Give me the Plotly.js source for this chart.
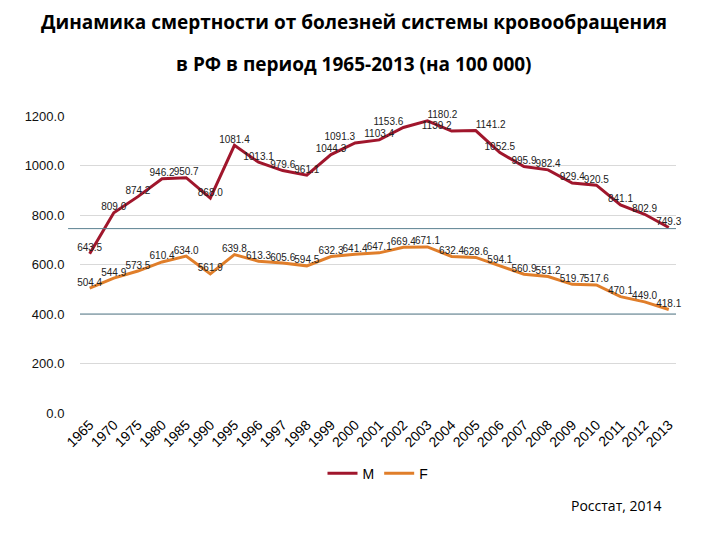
<!DOCTYPE html>
<html><head><meta charset="utf-8">
<script src="https://cdn.plot.ly/plotly-3.0.1.min.js"></script>
<style>html,body{margin:0;padding:0;background:#fff}#chart{width:720px;height:540px}</style>
</head><body><div id="chart"></div>
<script>
const years = ['1965','1970','1975','1980','1985','1990','1995','1996','1997','1998','1999','2000','2001','2002','2003','2004','2005','2006','2007','2008','2009','2010','2011','2012','2013'];
const male = [643.5,809.0,874.2,946.2,950.7,868.0,1081.4,1013.1,979.6,961.1,1044.3,1091.3,1103.4,1153.6,1180.2,1139.2,1141.2,1052.5,995.9,982.4,929.4,920.5,841.1,802.9,749.3];
const female = [504.4,544.9,573.5,610.4,634.0,561.9,639.8,613.3,605.6,594.5,632.3,641.4,647.1,669.4,671.1,632.4,628.6,594.1,560.9,551.2,519.7,517.6,470.1,449.0,418.1];
const seriesNames = ['M','F'];
const titleLines = ['Динамика смертности от болезней системы кровообращения','в РФ в период 1965-2013 (на 100 000)'];
const source = 'Росстат, 2014';

const lblFont = {family:'Liberation Sans, Arial, sans-serif', size:10, color:'#222'};
const posMap = {11:'top left', 13:'top left', 14:'top right', 15:'top left', 16:'top right'};
const malePos = male.map((v,i)=> posMap[i] || 'top center');
const traces = [
  {x:years, y:male, name:seriesNames[0], type:'scatter', mode:'lines+text',
   line:{color:'#a0162c', width:3}, text:male.map(v=>v.toFixed(1)),
   textposition:malePos, textfont:lblFont, cliponaxis:false},
  {x:years, y:female, name:seriesNames[1], type:'scatter', mode:'lines+text',
   line:{color:'#e07e2a', width:3}, text:female.map(v=>v.toFixed(1)),
   textposition:'top center', textfont:lblFont, cliponaxis:false}
];
const layout = {
  width:720, height:540,
  margin:{l:80, r:44, t:116, b:127},
  paper_bgcolor:'#fff', plot_bgcolor:'#fff',
  showlegend:true,
  legend:{orientation:'h', x:0.5, xanchor:'center', y:-0.15, yanchor:'top',
    font:{family:'Liberation Sans, Arial, sans-serif', size:14, color:'#000'}},
  xaxis:{type:'category', range:[-0.4,24.3], tickangle:-45, showgrid:false, zeroline:false,
    showline:false, ticks:'', tickfont:{family:'Liberation Sans, Arial, sans-serif', size:14, color:'#000'}},
  yaxis:{range:[0,1200], dtick:200, tickformat:'.1f', showgrid:true, gridcolor:'#d9d9d9', gridwidth:1,
    zeroline:false, showline:false, ticks:'outside', ticklen:12, tickcolor:'rgba(0,0,0,0)',
    tickfont:{family:'Liberation Sans, Arial, sans-serif', size:13, color:'#111'}},
  shapes:[
    {type:'line', xref:'paper', yref:'y', x0:-0.02, x1:1, y0:745, y1:745, line:{color:'#5a8090', width:1}},
    {type:'line', xref:'paper', yref:'y', x0:0, x1:1, y0:400, y1:400, line:{color:'#5a8090', width:1}}
  ],
  annotations:[
    {text:'<b>'+titleLines[0]+'</b>', xref:'paper', yref:'paper', x:0.46, y:1, xanchor:'center', yanchor:'middle',
     yshift:94, showarrow:false, font:{family:'Open Sans, sans-serif', size:19, color:'#000'}},
    {text:'<b>'+titleLines[1]+'</b>', xref:'paper', yref:'paper', x:0.46, y:1, xanchor:'center', yanchor:'middle',
     yshift:52, showarrow:false, font:{family:'Open Sans, sans-serif', size:19, color:'#000'}},
    {text:source, xref:'paper', yref:'paper', x:1, y:0, xanchor:'right', yanchor:'middle',
     xshift:-12, yshift:-92, showarrow:false, font:{family:'Open Sans, sans-serif', size:14, color:'#000'}}
  ]
};
Plotly.newPlot('chart', traces, layout, {displayModeBar:false, staticPlot:true});
</script></body></html>
